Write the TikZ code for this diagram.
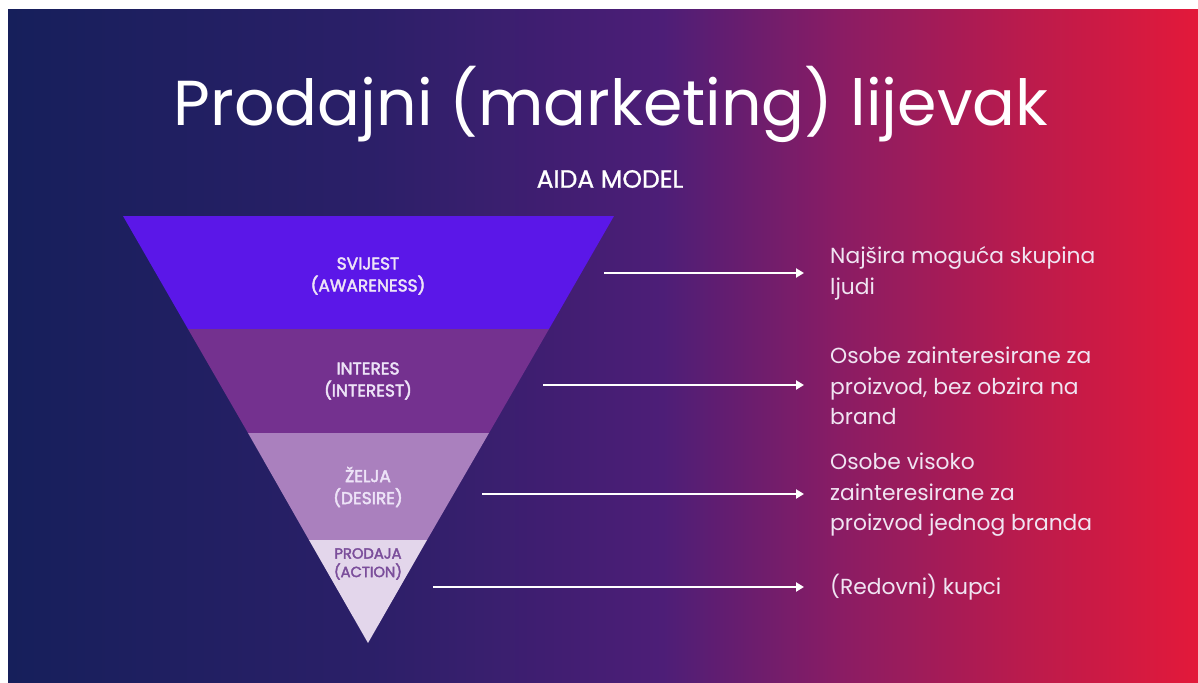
\documentclass[tikz,border=0pt]{standalone}
\usepackage{fontspec}
\setmainfont{Poppins}
\newfontfamily\popsemi{Poppins}[FakeBold=2.5]
\newfontfamily\popmed{Poppins}[FakeBold=1]
\usetikzlibrary{arrows.meta}
\definecolor{bgA}{HTML}{161F5B}
\definecolor{bgB}{HTML}{2B1F68}
\definecolor{bgC}{HTML}{4D1E77}
\definecolor{bgD}{HTML}{8A1C64}
\definecolor{bgE}{HTML}{B91B4D}
\definecolor{bgF}{HTML}{E3193A}
\definecolor{bandA}{HTML}{5B17E8}
\definecolor{bandB}{HTML}{74318F}
\definecolor{bandC}{HTML}{AA80BE}
\definecolor{bandD}{HTML}{E3D6EB}
\definecolor{labtxt}{HTML}{EDE3F7}
\definecolor{actiontxt}{HTML}{7B4E9B}
\definecolor{sidetxt}{HTML}{F0E4F2}
\pgfdeclarehorizontalshading{bgshade}{100bp}{color(0bp)=(bgA); color(25bp)=(bgA); color(40bp)=(bgB); color(52.5bp)=(bgC); color(60bp)=(bgD); color(67.5bp)=(bgE); color(75bp)=(bgF); color(100bp)=(bgF)}
\tikzset{
  band/.style={draw=none},
  lab/.style={font=\popsemi\fontsize{17}{22}\selectfont, text=labtxt, align=center, inner sep=0pt},
  side/.style={font=\fontsize{21.8}{30.5}\selectfont, text=sidetxt, align=left, anchor=west, inner sep=0pt},
  arr/.style={draw=white, line width=2.6pt, -{Triangle[length=8pt,width=9pt]}}
}
\begin{document}
\begin{tikzpicture}[x=1pt,y=-1pt]
\useasboundingbox (0,0) rectangle (1198,682);
\fill[white] (0,0) rectangle (1198,682);
\shade[shading=bgshade] (8,10) rectangle (1198,682);
% title
\node[text=white, font=\fontsize{63.5}{66}\selectfont, inner sep=0pt] (title) at (611,104) {Prodajni (marketing) lijevak};
\node[text=white, font=\popmed\fontsize{25}{28}\selectfont, inner sep=0pt] (aida) at (610,179) {AIDA MODEL};
% funnel
\fill[bandA] (123,216) -- (614,216) -- (549,329) -- (188,329) -- cycle;
\fill[bandB] (188,329) -- (549,329) -- (489,433) -- (248,433) -- cycle;
\fill[bandC] (248,433) -- (489,433) -- (427,540) -- (309,540) -- cycle;
\fill[bandD] (309,540) -- (427,540) -- (368,643) -- cycle;
\node[lab] (l1) at (368,276) {SVIJEST\\(AWARENESS)};
\node[lab] (l2) at (368,381) {INTERES\\(INTEREST)};
\node[lab] (l3) at (368,487) {ŽELJA\\(DESIRE)};
\node[lab, text=actiontxt, font=\popsemi\fontsize{14.7}{18.5}\selectfont] (l4) at (368,564) {PRODAJA\\(ACTION)};
% side texts
\node[side] (t1) at (830,273.5) {Najšira moguća skupina\\ljudi};
\node[side] (t2) at (830,386) {Osobe zainteresirane za\\proizvod, bez obzira na\\brand};
\node[side] (t3) at (830,495) {Osobe visoko\\zainteresirane za\\proizvod jednog branda};
\node[side] (t4) at (830,587) {(Redovni) kupci};
% arrows
\coordinate (s1) at (604,273);
\coordinate (s2) at (543,385);
\coordinate (s3) at (482,494);
\coordinate (s4) at (433,587);
\coordinate (e1) at (804,273);
\coordinate (e2) at (804,385);
\coordinate (e3) at (804,494);
\coordinate (e4) at (804,587);
\draw[arr] (s1) -- (e1);
\draw[arr] (s2) -- (e2);
\draw[arr] (s3) -- (e3);
\draw[arr] (s4) -- (e4);
\end{tikzpicture}
\end{document}
